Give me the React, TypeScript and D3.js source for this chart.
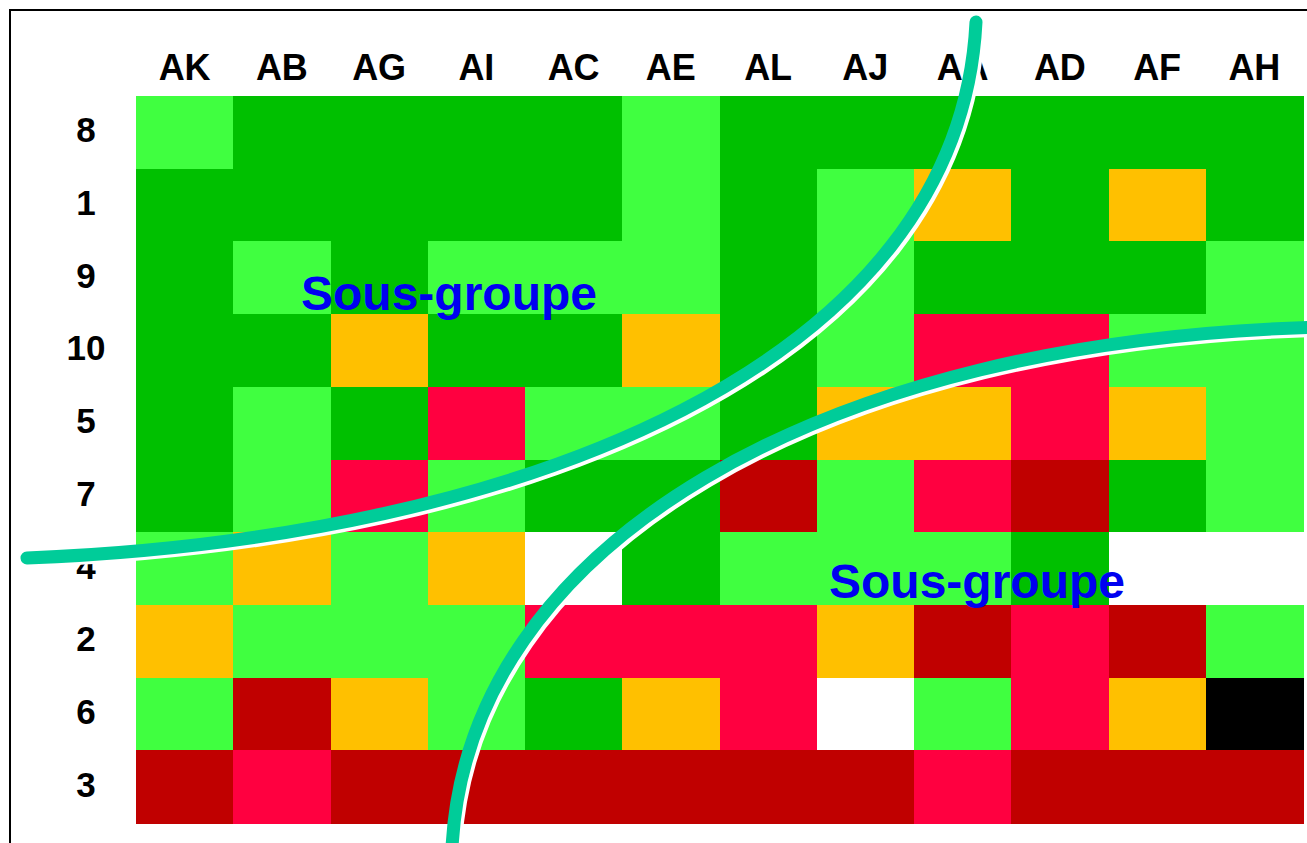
import React from "react";
import * as d3 from "d3";

const columns = ["AK", "AB", "AG", "AI", "AC", "AE", "AL", "AJ", "AA", "AD", "AF", "AH"];
const rows = ["8", "1", "9", "10", "5", "7", "4", "2", "6", "3"];

// L = light green, G = dark green, O = orange, R = red, D = dark red, W = white, K = black
const row8 = ["L", "G", "G", "G", "G", "L", "G", "G", "G", "G", "G", "G"];
const row1 = ["G", "G", "G", "G", "G", "L", "G", "L", "O", "G", "O", "G"];
const row9 = ["G", "L", "G", "L", "L", "L", "G", "L", "G", "G", "G", "L"];
const row10 = ["G", "G", "O", "G", "G", "O", "G", "L", "R", "R", "L", "L"];
const row5 = ["G", "L", "G", "R", "L", "L", "G", "O", "O", "R", "O", "L"];
const row7 = ["G", "L", "R", "L", "G", "G", "D", "L", "R", "D", "G", "L"];
const row4 = ["L", "O", "L", "O", "W", "G", "L", "L", "L", "G", "W", "W"];
const row2 = ["O", "L", "L", "L", "R", "R", "R", "O", "D", "R", "D", "L"];
const row6 = ["L", "D", "O", "L", "G", "O", "R", "W", "L", "R", "O", "K"];
const row3 = ["D", "R", "D", "D", "D", "D", "D", "D", "R", "D", "D", "D"];
const grid = [row8, row1, row9, row10, row5, row7, row4, row2, row6, row3];

const statusCodes = ["L", "G", "O", "R", "D", "W", "K"];
const statusColors = ["#40ff40", "#00c000", "#ffc000", "#ff0040", "#c00000", "#ffffff", "#000000"];

// curve guide points (reading from picture)
const curveA = [[27, 558], [527, 538], [959, 362], [976, 22]];
const curveB = [[452, 848], [467, 545], [820, 337], [1330, 327]];
const groupLabels = ["Sous-groupe", "Sous-groupe"];

const W = 1307;
const H = 843;

export default function App() {
  const x = d3.scaleBand().domain(columns).range([136, 1303]).padding(0);
  const y = d3.scaleBand().domain(rows).range([96, 823]).padding(0);
  const color = d3.scaleOrdinal<string, string>().domain(statusCodes).range(statusColors);

  const bez = (p: number[][]) => {
    const path = d3.path();
    path.moveTo(p[0][0], p[0][1]);
    path.bezierCurveTo(p[1][0], p[1][1], p[2][0], p[2][1], p[3][0], p[3][1]);
    return path.toString();
  };

  const font = "'Liberation Sans', Arial, Helvetica, sans-serif";

  return (
    <svg width={W} height={H} style={{ position: "absolute", left: 0, top: 0, background: "#fff" }}>
      <rect x={10} y={10} width={W + 20} height={H + 20} fill="#fff" stroke="#000" strokeWidth={2} />
      <g shapeRendering="crispEdges">
        {grid.map((r, i) =>
          r.map((c, j) => (
            <rect
              key={`${i}-${j}`}
              x={x(columns[j])}
              y={y(rows[i])}
              width={x.bandwidth() + 0.5}
              height={y.bandwidth() + 0.5}
              fill={color(c)}
            />
          ))
        )}
      </g>
      {columns.map((c) => (
        <text
          key={c}
          x={(x(c) as number) + x.bandwidth() / 2}
          y={80}
          textAnchor="middle"
          fontFamily={font}
          fontWeight="bold"
          fontSize={36}
          fill="#000"
        >
          {c}
        </text>
      ))}
      {rows.map((r) => (
        <text
          key={r}
          x={86}
          y={(y(r) as number) + y.bandwidth() / 2 + 10}
          textAnchor="middle"
          fontFamily={font}
          fontWeight="bold"
          fontSize={35}
          fill="#000"
        >
          {r}
        </text>
      ))}
      <text x={449} y={310} textAnchor="middle" fontFamily={font} fontWeight="bold" fontSize={48} fill="#0000f0">
        {groupLabels[0]}
      </text>
      <text x={977} y={598} textAnchor="middle" fontFamily={font} fontWeight="bold" fontSize={48} fill="#0000f0">
        {groupLabels[1]}
      </text>
      {[curveA, curveB].map((p, i) => (
        <g key={i}>
          <path d={bez(p)} transform="translate(3,3)" fill="none" stroke="#fff" strokeWidth={13} strokeLinecap="butt" />
          <path d={bez(p)} fill="none" stroke="#00cc99" strokeWidth={13} strokeLinecap="round" />
        </g>
      ))}
    </svg>
  );
}
